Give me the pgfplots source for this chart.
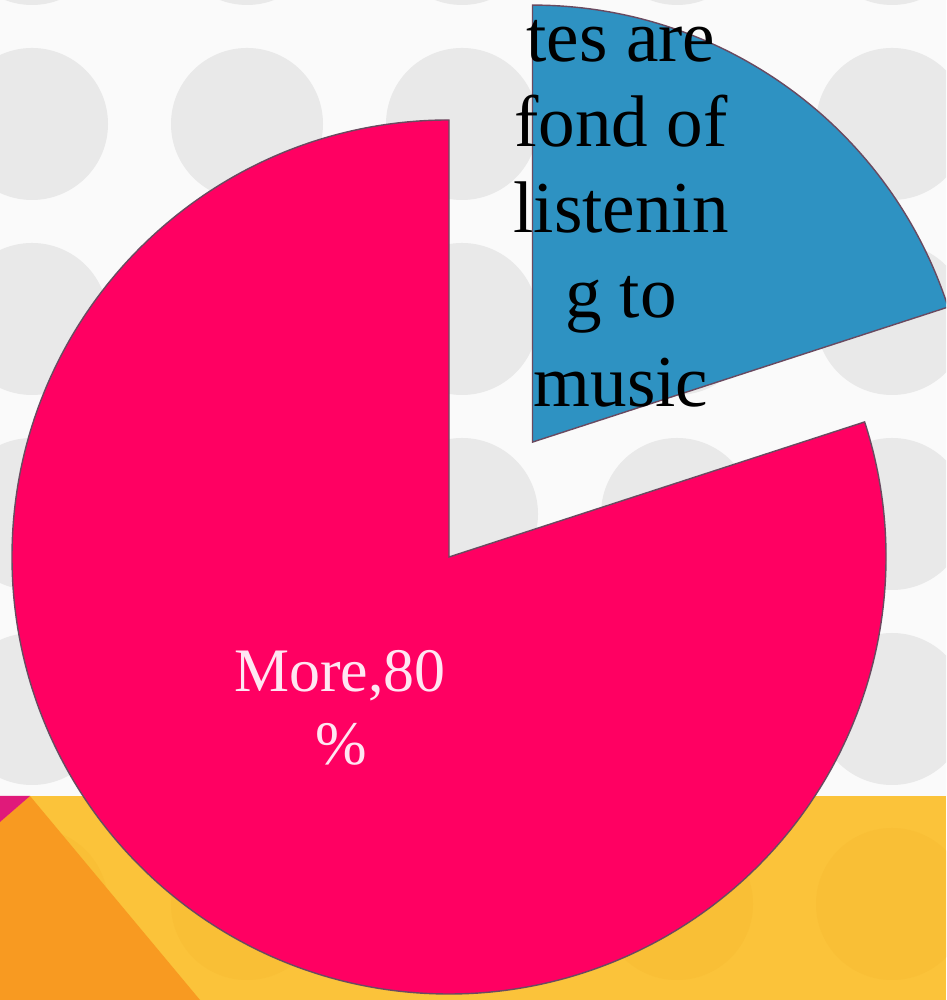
\documentclass[border=0pt]{standalone}
\usepackage{pgfplots}
\pgfplotsset{compat=1.18}
\usepackage{pgfplotstable}
\usepackage{fontspec}
\setmainfont{Liberation Serif}
\definecolor{bg}{HTML}{FAFAFA}
\definecolor{dot}{HTML}{E9E9E9}
\definecolor{yel}{HTML}{FBC33A}
\definecolor{yeldot}{HTML}{F9BF36}
\definecolor{org}{HTML}{F89A21}
\definecolor{mag}{HTML}{E01A7A}
\definecolor{pinkpie}{HTML}{FF0062}
\definecolor{bluepie}{HTML}{2E92C2}
\definecolor{edge}{HTML}{6A4A60}
\definecolor{lbl}{HTML}{FFE6F2}

\pgfplotstableread{
label value
Less 20
More 80
}\piedata

\begin{document}
\begin{tikzpicture}
\pgfplotstablegetelem{0}{value}\of\piedata \let\vLess\pgfplotsretval
\pgfplotstablegetelem{1}{value}\of\piedata \let\vMore\pgfplotsretval
\pgfmathsetmacro\aLess{3.6*\vLess}
\pgfmathsetmacro\aMore{3.6*\vMore}
% pie geometry (pixel units of the slide)
\def\cx{449}\def\cy{443}\def\R{437}\def\ex{142}
\pgfmathsetmacro\sA{90-\aLess}      % start of the small slice
\pgfmathsetmacro\mA{90-\aLess/2}    % mid angle of the small slice
\pgfmathsetmacro\bcx{\cx+\ex*cos(\mA)}
\pgfmathsetmacro\bcy{\cy+\ex*sin(\mA)}
\pgfmathsetmacro\bsx{\bcx+\R*cos(\sA)}
\pgfmathsetmacro\bsy{\bcy+\R*sin(\sA)}
\pgfmathsetmacro\pex{\cx}
\pgfmathsetmacro\pey{\cy+\R}
\pgfmathsetmacro\pEnd{90+\aMore}
\clip (0,0) rectangle (9.46cm,10cm);
% slide background
\fill[bg] (0,0) rectangle (9.46cm,10cm);
\foreach \x in {0.32,2.47,4.62,6.77,8.92}{
  \foreach \y in {10.71,8.76,6.81,4.86,2.91}{
    \fill[dot] (\x cm,\y cm) circle (0.76cm);
  }
}
\fill[yel] (0,0) rectangle (9.46cm,2.04cm);
\foreach \x in {0.32,2.47,4.62,6.77,8.92}{
  \fill[yeldot] (\x cm,0.96cm) circle (0.76cm);
}
\fill[org] (0.30cm,2.04cm) -- (2.00cm,0) -- (0,0) -- (0,1.78cm) -- cycle;
\fill[mag] (0,2.04cm) -- (0.30cm,2.04cm) -- (0,1.78cm) -- cycle;
\begin{axis}[at={(0,0)},anchor=south west,
  width=9.46cm,height=10cm,scale only axis,
  xmin=0,xmax=946,ymin=0,ymax=1000,
  hide axis, clip=false]
% large slice: More 80
\filldraw[fill=pinkpie, draw=edge, line width=0.4pt]
  (axis cs:\cx,\cy) -- (axis cs:\pex,\pey)
  arc[start angle=90, end angle=\pEnd, radius=\R] -- cycle;
% exploded slice: Less 20
\filldraw[fill=bluepie, draw=edge, line width=0.4pt]
  (axis cs:\bcx,\bcy) -- (axis cs:\bsx,\bsy)
  arc[start angle=\sA, end angle=90, radius=\R] -- cycle;
% labels
\node[anchor=base, text=lbl, font=\fontsize{17.6}{21}\selectfont] at (axis cs:340,308) {More,80};
\node[anchor=base, text=lbl, font=\fontsize{17.6}{21}\selectfont] at (axis cs:341,235) {\%};
\node[anchor=base, text=black, font=\fontsize{20.8}{25}\selectfont] at (axis cs:621,938) {tes are};
\node[anchor=base, text=black, font=\fontsize{20.8}{25}\selectfont] at (axis cs:621,853) {fond of};
\node[anchor=base, text=black, font=\fontsize{20.8}{25}\selectfont] at (axis cs:621,767) {listenin};
\node[anchor=base, text=black, font=\fontsize{20.8}{25}\selectfont] at (axis cs:621,682) {g to};
\node[anchor=base, text=black, font=\fontsize{20.8}{25}\selectfont] at (axis cs:621,593) {music};
\end{axis}
\end{tikzpicture}
\end{document}
